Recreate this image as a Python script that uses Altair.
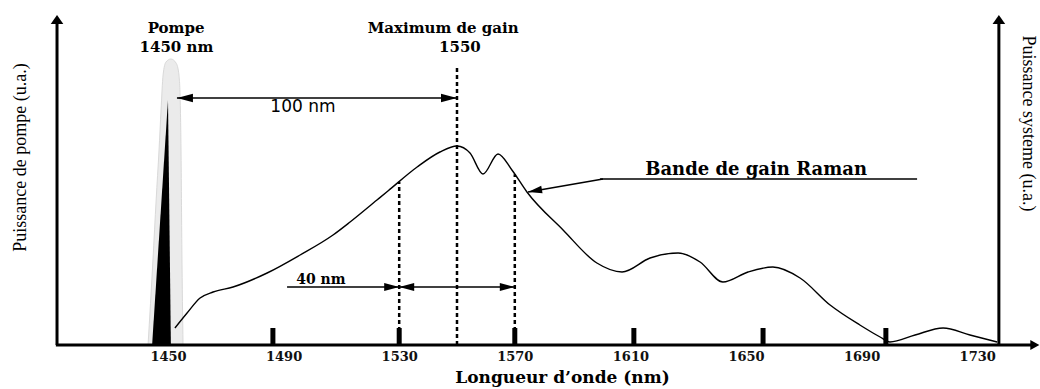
import altair as alt
import pandas as pd

W, H_PLOT, H_BOTTOM = 1040, 345, 44

# ---------------------------------------------------------------------------
# Raman gain band: wavelength (nm) vs power (arbitrary units)
gain_nm = [1452.4, 1456.6, 1461.1, 1465.6, 1472.5, 1484.3, 1495.7, 1507.1,
           1513.0, 1522.3, 1526.1, 1536.2, 1544.1, 1550.0, 1554.5, 1559.0,
           1564.2, 1569.0, 1574.2, 1586.7, 1598.4, 1607.1, 1616.8, 1626.5,
           1634.1, 1642.0, 1650.7, 1659.3, 1668.7, 1679.1, 1689.4, 1696.4,
           1699.8, 1708.5, 1718.2, 1727.5, 1736.9]
gain_au = [8.5, 16, 23.5, 26.5, 29, 36, 45, 55,
           61.5, 72.5, 77, 89, 96.5, 99.5, 96, 85.5,
           95.5, 87.5, 76.5, 57.5, 41, 36.5, 43.5, 46,
           41.5, 31.5, 36.5, 39, 33.5, 20, 10, 4,
           1.5, 5, 8.5, 5, 1.5]

# Pump line and its halo
pump_nm = [1444.5, 1450.0, 1451.0]
pump_au = [0.0, 122.5, 0.0]
halo_nm = [1443.1, 1444.8, 1445.9, 1446.9, 1447.6, 1448.3, 1449.3,
           1451.0, 1452.8, 1453.8, 1454.3, 1454.5, 1454.8, 1455.2]
halo_au = [0, 42.5, 72.5, 97.5, 117.5, 135, 141.5,
           143, 141, 135, 117.5, 97.5, 47.5, 0]

pump_wl = 1450
gain_max_wl = 1550
band_lo, band_hi = 1530, 1570
band_width = band_hi - band_lo

# Short bars marking wavelengths along the axis
grad_nm = [1486.3, 1530, 1570, 1611.2, 1655.9, 1698.4]
grad_au = 8.5

tick_labels = [1450, 1490, 1530, 1570, 1610, 1650, 1690, 1730]

# Frame (axes drawn as arrows)
x_start, x_tip = 1411.2, 1751.5
y_left, y_right = 1411.6, 1737.5
y_tip = 165

# Annotation anchors
arrow100_y, arrow100_from = 123.5, 1453.1
arrow40_y, arrow40_from = 29, 1491.2
raman_line = (1599.5, 1709.2, 83)
raman_tip = (1574.6, 76.5)

xs = alt.Scale(domain=[1391.87, 1751.73], nice=False, zero=False)
ys = alt.Scale(domain=[0, 172.5], nice=False, zero=False)


def X(field="x"):
    return alt.X(f"{field}:Q", scale=xs, axis=None)


def Y(field="y"):
    return alt.Y(f"{field}:Q", scale=ys, axis=None)


def rules(rows, width, dash=None):
    df = pd.DataFrame(rows, columns=["x", "x2", "y", "y2"])
    kw = dict(color="black", strokeWidth=width, strokeCap="butt")
    if dash:
        kw["strokeDash"] = dash
    return alt.Chart(df).mark_rule(**kw).encode(x=X(), x2="x2:Q", y=Y(), y2="y2:Q")


def heads(points, path, size, angle=0):
    df = pd.DataFrame(points, columns=["x", "y"])
    return alt.Chart(df).mark_point(
        shape=path, size=size, filled=True, color="black", opacity=1,
        strokeWidth=0, angle=angle
    ).encode(x=X(), y=Y())


def texts(rows, size, font="DejaVu Serif", weight="bold", align="center"):
    df = pd.DataFrame(rows, columns=["x", "y", "t"])
    return alt.Chart(df).mark_text(
        font=font, fontSize=size, fontWeight=weight, color="black",
        align=align, baseline="middle"
    ).encode(x=X(), y=Y(), text="t:N")


HEAD_R = "M0,0L-1,-0.27L-1,0.27Z"
HEAD_L = "M0,0L1,-0.27L1,0.27Z"
HEAD_U = "M0,0L-0.7,1L0.7,1Z"
HEAD_AX = "M0,0L-1,-0.55L-1,0.55Z"

# Halo around the pump (also carries the right-hand axis title)
halo = alt.Chart(pd.DataFrame({"x": halo_nm, "y": halo_au})).mark_area(
    color="#ebebeb", stroke="#d9d9d9", strokeWidth=1, interpolate="monotone"
).encode(
    x=X(),
    y=alt.Y("y:Q", scale=ys, axis=alt.Axis(
        orient="right", title="Puissance systeme (u.a.)", domain=False, ticks=False,
        labels=False, grid=False, titleX=-13, titleY=123, titleAngle=90,
        titleAlign="center", titleBaseline="middle", titleFont="Liberation Serif",
        titleFontSize=18, titleFontWeight="normal", titleColor="black")),
)

pump = alt.Chart(pd.DataFrame({"x": pump_nm, "y": pump_au})).mark_area(
    color="black", interpolate="linear"
).encode(x=X(), y=Y())

curve = alt.Chart(pd.DataFrame({"x": gain_nm, "y": gain_au})).mark_line(
    color="black", strokeWidth=1.4, interpolate="monotone"
).encode(
    x=alt.X("x:Q", scale=xs, axis=alt.Axis(
        values=tick_labels, format="d", domain=False, ticks=False, tickSize=0,
        grid=False, labelFont="DejaVu Serif", labelFontWeight="bold",
        labelFontSize=13, labelColor="#111", labelPadding=5, labelFlush=False,
        labelOverlap=False, title="Longueur d’onde (nm)",
        titleFont="DejaVu Serif", titleFontWeight="bold", titleFontSize=17,
        titleColor="black", titleX=562, titleY=32, titleAlign="center",
        titleBaseline="middle")),
    y=alt.Y("y:Q", scale=ys, axis=alt.Axis(
        orient="left", title="Puissance de pompe (u.a.)", domain=False, ticks=False,
        labels=False, grid=False, titleX=20, titleY=157, titleAngle=270,
        titleAlign="center", titleBaseline="middle", titleFont="Liberation Serif",
        titleFontSize=18, titleFontWeight="normal", titleColor="black")),
)


def curve_at(nm):
    for i in range(len(gain_nm) - 1):
        a, b = gain_nm[i], gain_nm[i + 1]
        if a <= nm <= b:
            t = (nm - a) / (b - a)
            return gain_au[i] + t * (gain_au[i + 1] - gain_au[i])
    return 0


dashed = rules([
    (gain_max_wl, gain_max_wl, 0, 139),
    (band_lo, band_lo, 0, curve_at(band_lo)),
    (band_hi, band_hi, 0, curve_at(band_hi)),
], 2.5, dash=[4, 3])

thin = rules([
    (arrow100_from, gain_max_wl, arrow100_y, arrow100_y),
    (arrow40_from, band_lo, arrow40_y, arrow40_y),
    (band_lo, band_hi, arrow40_y, arrow40_y),
    (raman_line[0], raman_line[1], raman_line[2], raman_line[2]),
    (raman_line[0] + 1, raman_tip[0], raman_line[2], raman_tip[1]),
], 1.5)

frame = rules([
    (x_start, x_tip - 2.8, 0, 0),
    (y_left, y_left, 0, y_tip - 3),
    (y_right, y_right, 0, y_tip - 3),
], 3)

grads = rules([(g, g, 0, grad_au) for g in grad_nm], 5)

arrowheads = [
    heads([(gain_max_wl, arrow100_y)], HEAD_R, 1024),
    heads([(arrow100_from, arrow100_y)], HEAD_L, 1024),
    heads([(band_lo, arrow40_y), (band_hi, arrow40_y)], HEAD_R, 900),
    heads([(band_lo, arrow40_y)], HEAD_L, 900),
    heads([raman_tip], HEAD_L, 784, angle=350),
    heads([(y_left, y_tip), (y_right, y_tip)], HEAD_U, 324),
    heads([(x_tip, 0)], HEAD_AX, 324),
]

headings = texts([
    (1452.8, 158.5, "Pompe"),
    (1452.9, 149.0, f"{pump_wl} nm"),
    (1545.2, 158.5, "Maximum de gain"),
    (1551.0, 149.0, f"{gain_max_wl}"),
], 15)

span_label = texts([(1496.7, 119, f"{gain_max_wl - pump_wl} nm")], 17,
                   font="DejaVu Sans", weight="normal")
band_label = texts([(1502.9, 32.5, f"{band_width} nm")], 14)
raman_label = texts([(1653.5, 87.5, "Bande de gain Raman")], 18)

chart = alt.layer(
    halo, pump, curve, dashed, thin, frame, grads, *arrowheads,
    headings, span_label, band_label, raman_label,
).resolve_axis(x="independent", y="independent").properties(
    width=W, height=H_PLOT,
    padding={"left": 0, "top": 0, "right": 0, "bottom": H_BOTTOM},
    autosize="none", background="white"
).configure_view(stroke=None)

chart.save("out.html", embed_options={"renderer": "svg", "actions": False})
